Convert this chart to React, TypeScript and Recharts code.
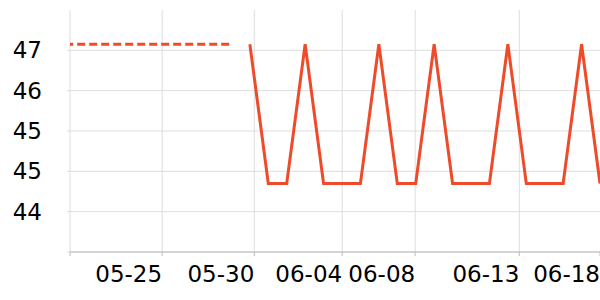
import React from "react";
import { LineChart, Line, XAxis, YAxis, CartesianGrid } from "recharts";

// x = days after 05-20
const solidDays = [9.76, 10.76, 11.76, 12.76, 13.76, 14.76, 15.76, 16.76, 17.76, 18.76, 19.76, 20.76, 21.76, 22.76, 23.76, 24.76, 25.76, 26.76, 27.76, 28.76];
const solidValues = [46.69, 44.62, 44.62, 46.69, 44.62, 44.62, 44.62, 46.69, 44.62, 44.62, 46.69, 44.62, 44.62, 44.62, 46.69, 44.62, 44.62, 44.62, 46.69, 44.62];

const dashedDays = [-0.26, 0.74, 1.74, 2.74, 3.74, 4.74, 5.74, 6.74, 7.74, 8.74];
const dashedValues = [46.69, 46.69, 46.69, 46.69, 46.69, 46.69, 46.69, 46.69, 46.69, 46.69];

const xTickValues = [0, 5, 10, 14.77, 18.73, 24.38, 28.76];
const xTickLabels = ["", "05-25", "05-30", "06-04", "06-08", "06-13", "06-18"];
const xGridValues = [0, 5, 10, 14.77, 18.73, 24.38];

const yTickValues = [43.6, 44.2, 44.8, 45.4, 46.0, 46.6];
const yTickLabels = ["", "44", "45", "45", "46", "47"];

const solidData = solidDays.map((d, i) => ({ d, v: solidValues[i] }));
const dashedData = dashedDays.map((d, i) => ({ d, v: dashedValues[i] }));

const FONT = "'DejaVu Sans', sans-serif";
const LINE_COLOR = "#ee4b2b";

export default function App() {
  return (
    <div style={{ position: "absolute", left: 0, top: 0 }}>
      <LineChart width={600} height={300} margin={{ top: 10, right: 0, left: 0, bottom: 0 }}>
        <CartesianGrid
          stroke="#dddddd"
          strokeWidth={1}
          verticalValues={xGridValues}
          horizontalValues={yTickValues}
        />
        <XAxis
          type="number"
          dataKey="d"
          domain={[0, 28.76]}
          allowDataOverflow
          ticks={xTickValues}
          interval={0}
          height={48}
          tickFormatter={(v: number) => xTickLabels[xTickValues.indexOf(v)] ?? ""}
          axisLine={{ stroke: "#bbbbbb" }}
          tickLine={{ stroke: "#bbbbbb" }}
          tickSize={4}
          tickMargin={10}
          tick={{ textAnchor: "end", fill: "#000", fontSize: 23, fontFamily: FONT }}
        />
        <YAxis
          type="number"
          domain={[43.6, 47.2]}
          allowDataOverflow
          ticks={yTickValues}
          interval={0}
          width={70}
          tickFormatter={(v: number) => yTickLabels[yTickValues.indexOf(v)] ?? ""}
          axisLine={false}
          tickLine={{ stroke: "#dddddd" }}
          tickSize={3}
          tickMargin={25}
          tick={{ fill: "#000", fontSize: 23, fontFamily: FONT }}
        />
        <Line
          data={dashedData}
          dataKey="v"
          type="linear"
          stroke={LINE_COLOR}
          strokeWidth={3}
          strokeDasharray="8 4"
          dot={false}
          activeDot={false}
          isAnimationActive={false}
        />
        <Line
          data={solidData}
          dataKey="v"
          type="linear"
          stroke={LINE_COLOR}
          strokeWidth={3}
          dot={false}
          activeDot={false}
          isAnimationActive={false}
        />
      </LineChart>
    </div>
  );
}
